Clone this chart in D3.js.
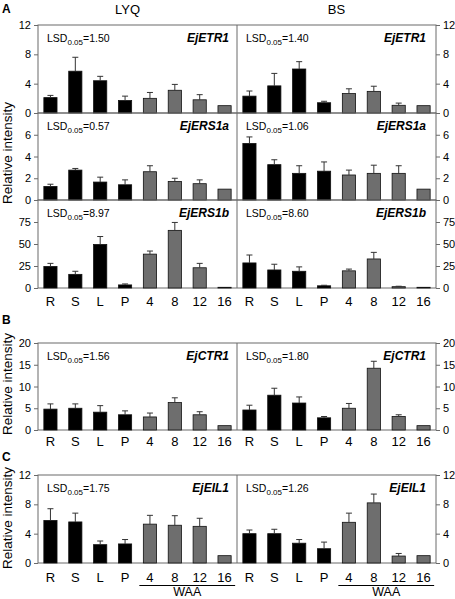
<!DOCTYPE html>
<html><head><meta charset="utf-8">
<script src="https://cdn.jsdelivr.net/npm/d3@7"></script>
<style>body{margin:0;background:#fff}svg{display:block;font-family:"Liberation Sans",Arial,sans-serif}</style>
</head><body><svg id="c" width="455" height="599"></svg>
<script>
const categories = ["R","S","L","P","4","8","12","16"];
const genes = ["EjETR1","EjERS1a","EjERS1b","EjCTR1","EjEIL1"];
const lyqMeans = [
  [2.1,5.7,4.4,1.7,2.0,3.1,1.8,1.0],
  [1.25,2.75,1.65,1.4,2.6,1.7,1.5,1.0],
  [24.5,15.5,49.5,3.5,38.5,65.5,23,0.8],
  [4.8,5.0,4.1,3.5,3.0,6.3,3.5,1.0],
  [5.8,5.6,2.5,2.6,5.3,5.15,5.0,1.0]
];
const lyqErrors = [
  [0.3,1.9,0.6,0.6,0.8,0.8,0.7,0],
  [0.2,0.15,0.45,0.45,0.55,0.3,0.35,0],
  [3.5,3.5,9,1.1,3.5,9,5,0],
  [1.2,1.0,1.5,0.9,0.9,1.1,0.7,0],
  [1.6,1.2,0.5,0.6,1.2,1.3,1.1,0]
];
const bsMeans = [
  [2.3,3.7,6.0,1.4,2.65,2.95,1.05,1.0],
  [5.2,3.25,2.45,2.65,2.3,2.45,2.45,1.0],
  [28.5,20.5,19,2.5,19.5,33,1.5,0.8],
  [4.6,8.0,6.2,2.8,5.0,14.2,3.1,1.0],
  [4.0,4.0,2.7,1.95,5.55,8.2,0.95,1.0]
];
const bsErrors = [
  [0.7,1.7,1.0,0.2,0.65,0.7,0.3,0],
  [0.6,0.45,0.7,0.85,0.45,0.75,0.7,0],
  [9,6.5,5,0.6,2,7.5,0.5,0],
  [1.1,1.6,1.4,0.3,1.1,1.6,0.4,0],
  [0.5,0.6,0.5,0.9,1.25,1.2,0.35,0]
];
const yMaxes = [12,8,100,20,12];
const yTicks = [[0,4,8,12],[0,2,4,6],[0,25,50,75],[0,5,10,15,20],[0,4,8,12]];
const lsdLyq = ["1.50","0.57","8.97","1.56","1.75"];
const lsdBs = ["1.40","1.06","8.60","1.80","1.26"];
const cultivars = ["LYQ","BS"];
const panelLetters = ["A","B","C"];
const groupLabel = "WAA";

const svg = d3.select("#c");
const X0 = 38, XM = 237, X1 = 436;
const rows = [
  {top:25, bot:113}, {top:113, bot:200}, {top:200, bot:288},
  {top:343, bot:430}, {top:475, bot:563}
];
const frame = "#6a6a6a";
const xL = d3.scaleBand().domain(categories).range([X0, XM]).paddingInner(0.47).paddingOuter(0.235);
const xR = d3.scaleBand().domain(categories).range([XM, X1]).paddingInner(0.47).paddingOuter(0.235);

function drawHalf(g, x, y, means, errs) {
  const gg = g.append("g");
  gg.selectAll("rect.bar").data(means).join("rect")
    .attr("x", (d,i)=>x(categories[i]))
    .attr("width", x.bandwidth())
    .attr("y", d=>y(d))
    .attr("height", d=>y(0)-y(d))
    .attr("fill", (d,i)=> i<4 ? "#000" : "#6e6e6e")
    .attr("stroke", "#111").attr("stroke-width", 0.8);
  const eb = gg.selectAll("g.err").data(means.map((m,i)=>({m, e:errs[i], c:categories[i]})).filter(d=>d.e>0)).join("g");
  eb.append("line")
    .attr("x1", d=>x(d.c)+x.bandwidth()/2).attr("x2", d=>x(d.c)+x.bandwidth()/2)
    .attr("y1", d=>y(d.m)).attr("y2", d=>y(d.m+d.e))
    .attr("stroke", "#333").attr("stroke-width", 1);
  eb.append("line")
    .attr("x1", d=>x(d.c)+x.bandwidth()/2-3).attr("x2", d=>x(d.c)+x.bandwidth()/2+3)
    .attr("y1", d=>y(d.m+d.e)).attr("y2", d=>y(d.m+d.e))
    .attr("stroke", "#333").attr("stroke-width", 1);
}

function lsdText(x, yb, val) {
  const t = svg.append("text").attr("x", x).attr("y", yb).attr("font-size", 10.5).attr("fill", "#000");
  t.append("tspan").text("LSD");
  t.append("tspan").attr("font-size", 8).attr("dy", 3).text("0.05");
  t.append("tspan").attr("dy", -3).text("=" + val);
}

genes.forEach((gene, k) => {
  const r = rows[k];
  const y = d3.scaleLinear().domain([0, yMaxes[k]]).range([r.bot, r.top]);
  svg.append("rect").attr("x", X0).attr("y", r.top).attr("width", X1-X0).attr("height", r.bot-r.top)
    .attr("fill", "none").attr("stroke", frame).attr("stroke-width", 1);
  svg.append("line").attr("x1", XM).attr("x2", XM).attr("y1", r.top).attr("y2", r.bot)
    .attr("stroke", frame).attr("stroke-width", 1);
  drawHalf(svg, xL, y, lyqMeans[k], lyqErrors[k]);
  drawHalf(svg, xR, y, bsMeans[k], bsErrors[k]);
  const la = svg.append("g").attr("transform", `translate(${X0},0)`)
    .call(d3.axisLeft(y).tickValues(yTicks[k]).tickSize(4).tickPadding(3).tickFormat(d3.format("d")));
  const ra = svg.append("g").attr("transform", `translate(${X1},0)`)
    .call(d3.axisRight(y).tickValues(yTicks[k]).tickSize(4).tickPadding(3).tickFormat(d3.format("d")));
  [la, ra].forEach(a => {
    a.select(".domain").remove();
    a.selectAll(".tick line").attr("stroke", frame);
    a.selectAll(".tick text").attr("font-size", 11).attr("fill", "#000").attr("font-family", "Liberation Sans, Arial, sans-serif");
  });
  lsdText(X0+9, r.top+17, lsdLyq[k]);
  lsdText(XM+9, r.top+17, lsdBs[k]);
  svg.append("text").attr("x", XM-8).attr("y", r.top+17).attr("text-anchor", "end")
    .attr("font-size", 12).attr("font-weight", "bold").attr("font-style", "italic").text(gene);
  svg.append("text").attr("x", X1-10).attr("y", r.top+17).attr("text-anchor", "end")
    .attr("font-size", 12).attr("font-weight", "bold").attr("font-style", "italic").text(gene);
});

[{y:306},{y:446},{y:582}].forEach(p => {
  [xL, xR].forEach(x => {
    svg.append("g").selectAll("text").data(categories).join("text")
      .attr("x", d=>x(d)+x.bandwidth()/2).attr("y", p.y).attr("text-anchor", "middle")
      .attr("font-size", 13).text(d=>d);
  });
});

[[xL],[xR]].forEach(([x]) => {
  const a = x("4"), b = x("16") + x.bandwidth();
  svg.append("line").attr("x1", a-4).attr("x2", b+4).attr("y1", 585.5).attr("y2", 585.5)
    .attr("stroke", "#000").attr("stroke-width", 1);
  svg.append("text").attr("x", (a+b)/2).attr("y", 596).attr("text-anchor", "middle")
    .attr("font-size", 12.5).text(groupLabel);
});

svg.append("text").attr("x", (X0+XM)/2 - 10).attr("y", 14).attr("text-anchor", "middle").attr("font-size", 13).text(cultivars[0]);
svg.append("text").attr("x", (XM+X1)/2).attr("y", 14).attr("text-anchor", "middle").attr("font-size", 13).text(cultivars[1]);

[[2,13],[2,324],[2,461]].forEach((p,i) => {
  svg.append("text").attr("x", p[0]).attr("y", p[1]).attr("font-size", 12).attr("font-weight", "bold").text(panelLetters[i]);
});

[153, 384, 518].forEach(cy => {
  svg.append("text").attr("transform", `translate(12,${cy}) rotate(-90)`).attr("text-anchor", "middle")
    .attr("font-size", 13.5).text("Relative intensity");
});
</script></body></html>
